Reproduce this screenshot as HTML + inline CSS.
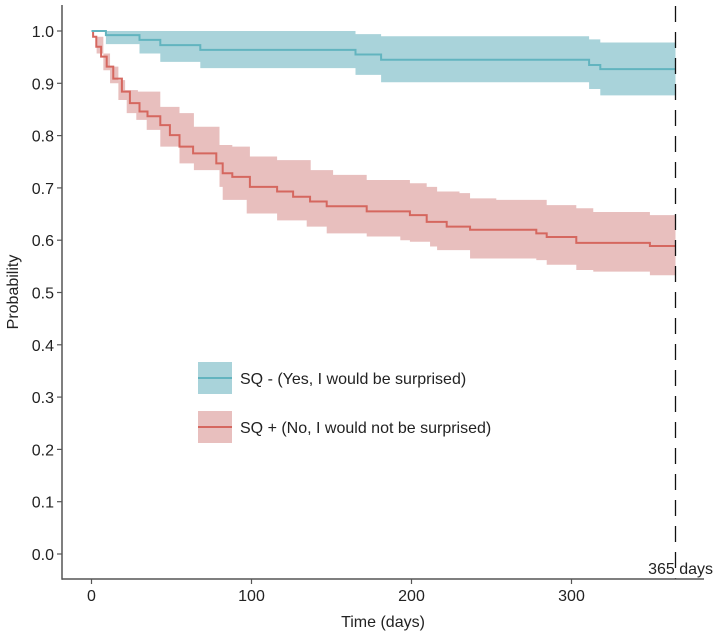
<!DOCTYPE html>
<html><head><meta charset="utf-8"><style>
html,body{margin:0;padding:0;background:#fff;}
svg{display:block;font-family:"Liberation Sans",Arial,sans-serif;}
</style></head><body>
<svg id="chart" width="714" height="634" viewBox="0 0 714 634" xmlns="http://www.w3.org/2000/svg"></svg>
<script>
// ---- data ----
const xTicks = [0, 100, 200, 300];
const yTicks = [0.0, 0.1, 0.2, 0.3, 0.4, 0.5, 0.6, 0.7, 0.8, 0.9, 1.0];
const endTime = 365;

const negLineT = [0, 9, 30, 43, 68, 165, 181, 311, 318];
const negLineV = [1.0, 0.992, 0.983, 0.973, 0.964, 0.955, 0.945, 0.935, 0.927];
const negUpT = [0, 165, 181, 311, 318];
const negUpV = [1.0, 0.994, 0.99, 0.984, 0.978];
const negLoT = [0, 9, 30, 43, 68, 165, 181, 311, 318];
const negLoV = [1.0, 0.975, 0.957, 0.941, 0.929, 0.916, 0.902, 0.889, 0.877];

const posLineT = [0, 1, 3, 6, 9.5, 13.6, 19, 24, 30, 35, 43, 49, 55, 63.5, 78, 82, 88, 99, 116, 126, 136.6, 147, 172, 199, 209.5, 222, 236.6, 278, 284.5, 303, 349];
const posLineV = [1.0, 0.989, 0.970, 0.951, 0.932, 0.909, 0.884, 0.862, 0.846, 0.837, 0.820, 0.801, 0.779, 0.766, 0.747, 0.728, 0.721, 0.702, 0.693, 0.683, 0.674, 0.665, 0.655, 0.648, 0.635, 0.626, 0.620, 0.613, 0.606, 0.595, 0.589];
const posUpT = [0, 3.2, 7.4, 11.6, 16.8, 21, 29, 43, 55, 64, 80, 88, 99, 116, 137, 151, 172, 199, 209.5, 216, 230, 236.6, 253, 284.5, 303, 313.6, 349];
const posUpV = [1.0, 0.989, 0.957, 0.932, 0.906, 0.887, 0.884, 0.855, 0.843, 0.817, 0.782, 0.779, 0.760, 0.753, 0.734, 0.725, 0.715, 0.709, 0.702, 0.693, 0.690, 0.680, 0.677, 0.667, 0.661, 0.654, 0.648];
const posLoT = [0, 3.2, 7.4, 11.6, 16.8, 22, 28, 34.5, 43, 55, 64, 80, 82, 97, 116, 134.5, 147, 172, 193, 199, 211.6, 216, 236.6, 278, 284.5, 303, 313.6, 349];
const posLoV = [1.0, 0.957, 0.925, 0.900, 0.868, 0.843, 0.830, 0.811, 0.779, 0.747, 0.734, 0.702, 0.677, 0.651, 0.638, 0.626, 0.613, 0.607, 0.600, 0.597, 0.588, 0.581, 0.565, 0.562, 0.553, 0.543, 0.540, 0.533];

// ---- scales ----
const X0 = 91.5, XS = 1.6;
const Y0 = 554, YS = 523;
const sx = t => X0 + t * XS;
const sy = v => Y0 - v * YS;
const NS = 'http://www.w3.org/2000/svg';
const svg = document.getElementById('chart');
function mk(tag, attrs, parent) {
  const e = document.createElementNS(NS, tag);
  for (const k in attrs) e.setAttribute(k, attrs[k]);
  (parent || svg).appendChild(e);
  return e;
}
function stepPts(T, V) {
  const pts = [];
  for (let i = 0; i < T.length; i++) {
    if (i > 0) pts.push([sx(T[i]), sy(V[i - 1])]);
    pts.push([sx(T[i]), sy(V[i])]);
  }
  pts.push([sx(endTime), sy(V[V.length - 1])]);
  return pts;
}
function band(UT, UV, LT, LV, fill, name) {
  const up = stepPts(UT, UV), lo = stepPts(LT, LV).reverse();
  const p = mk('polygon', {points: up.concat(lo).map(p => p.join(',')).join(' '), fill: fill});
  
  
}
function line(T, V, col, name) {
  const p = mk('polyline', {points: stepPts(T, V).map(p => p.join(',')).join(' '), fill: 'none', stroke: col, 'stroke-width': 2});
  
  
}

band(posUpT, posUpV, posLoT, posLoV, '#e8bfbe', 'sq-positive-ci-band');
band(negUpT, negUpV, negLoT, negLoV, '#a9d3da', 'sq-negative-ci-band');
line(posLineT, posLineV, '#d5675f', 'sq-positive-line');
line(negLineT, negLineV, '#62b4bf', 'sq-negative-line');

// dashed reference line
const vl = mk('line', {x1: sx(endTime), x2: sx(endTime), y1: 6, y2: 579, stroke: '#111', 'stroke-width': 1.3, 'stroke-dasharray': '16 10'});


const vt = mk('text', {x: 713, y: 574, 'text-anchor': 'end', 'font-size': 16, fill: '#222'});
vt.textContent = '365 days';



// axes
const ax = mk('line', {x1: 62, x2: 704, y1: 579, y2: 579, stroke: '#555', 'stroke-width': 1.5});


const ay = mk('line', {x1: 62, x2: 62, y1: 5, y2: 579.7, stroke: '#555', 'stroke-width': 1.5});


xTicks.forEach(t => {
  const tk = mk('line', {x1: sx(t), x2: sx(t), y1: 579, y2: 584, stroke: '#555', 'stroke-width': 1.2});
  
  
  const tx = mk('text', {x: sx(t), y: 601, 'text-anchor': 'middle', 'font-size': 16, fill: '#222'});
  tx.textContent = String(t);
  
  
});
yTicks.forEach(v => {
  const tk = mk('line', {x1: 57, x2: 62, y1: sy(v), y2: sy(v), stroke: '#555', 'stroke-width': 1.2});
  
  
  const tx = mk('text', {x: 54, y: sy(v) + 6, 'text-anchor': 'end', 'font-size': 16, fill: '#222'});
  tx.textContent = v.toFixed(1);
  
  
});
const xt = mk('text', {x: 383, y: 627, 'text-anchor': 'middle', 'font-size': 16, fill: '#222'});
xt.textContent = 'Time (days)';


const yt = mk('text', {x: 0, y: 0, 'text-anchor': 'middle', 'font-size': 16, fill: '#222', transform: 'translate(18,292) rotate(-90)'});
yt.textContent = 'Probability';



// legend
const legend = [
  {label: 'SQ - (Yes, I would be surprised)', fill: '#a9d3da', col: '#62b4bf', y: 378, name: 'legend-sq-negative'},
  {label: 'SQ + (No, I would not be surprised)', fill: '#e8bfbe', col: '#d5675f', y: 427, name: 'legend-sq-positive'}
];
legend.forEach(l => {
  const g = mk('g', {});
  
  
  mk('rect', {x: 198, y: l.y - 16, width: 34, height: 32, fill: l.fill}, g);
  mk('line', {x1: 198, x2: 232, y1: l.y, y2: l.y, stroke: l.col, 'stroke-width': 2}, g);
  const t = mk('text', {x: 240, y: l.y + 6, 'font-size': 16, fill: '#222'}, g);
  t.textContent = l.label;
});
</script>
</body></html>
